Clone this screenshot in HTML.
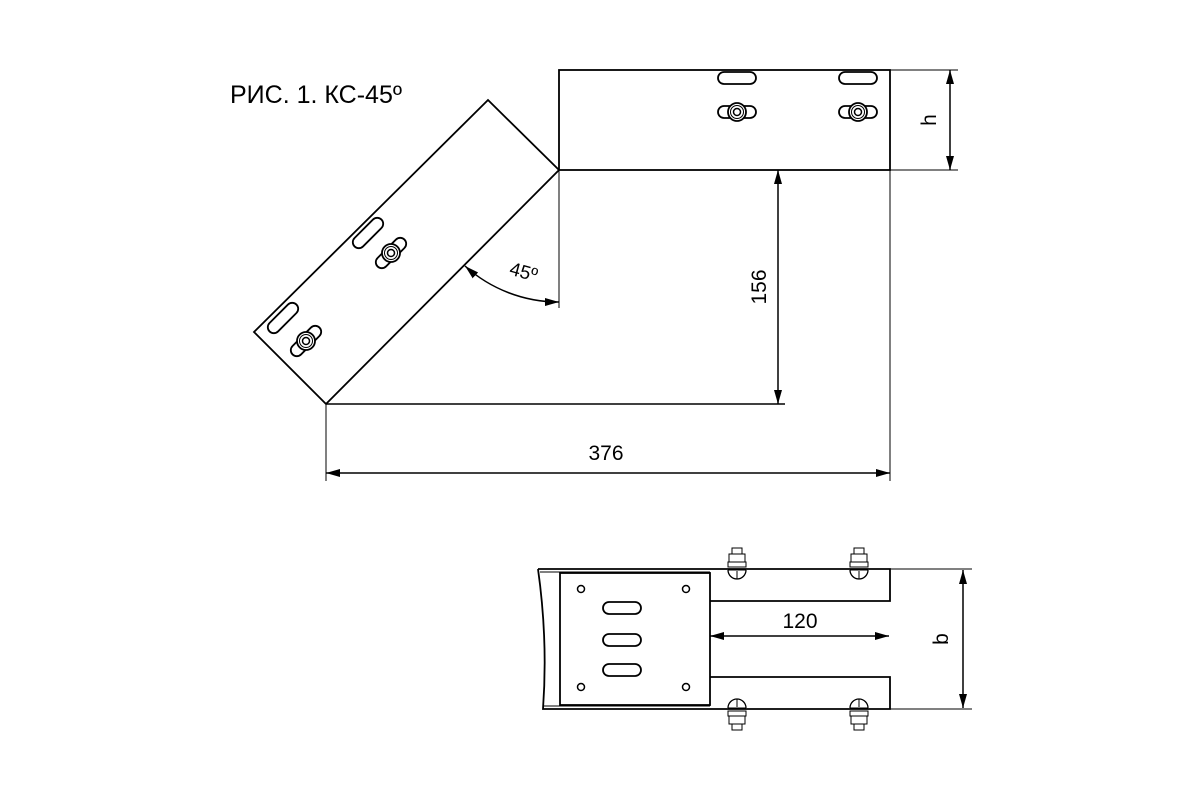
<!DOCTYPE html>
<html><head><style>body{margin:0;background:#fff}svg{display:block}</style></head><body>
<svg width="1200" height="800" viewBox="0 0 1200 800" xmlns="http://www.w3.org/2000/svg" font-family="Liberation Sans, sans-serif">
<defs>
<marker id="a" viewBox="0 0 14 8" refX="14" refY="4" markerWidth="14" markerHeight="8" markerUnits="userSpaceOnUse" orient="auto-start-reverse"><path d="M0,0 L14,4 L0,8 Z" fill="#000"/></marker>
<g id="nut"><rect x="-19" y="-6" width="38" height="12" rx="6" fill="#fff" stroke="#000" stroke-width="1.8"/><circle r="9" fill="#fff" stroke="#000" stroke-width="1.8"/><circle r="6.5" fill="none" stroke="#000" stroke-width="1"/><circle r="3.5" fill="none" stroke="#000" stroke-width="1.5"/></g>
<rect id="slot" x="-19" y="-6" width="38" height="12" rx="6" fill="none" stroke="#000" stroke-width="1.8"/>
<g id="boltT"><rect x="-5" y="-21" width="10" height="6" fill="#fff" stroke="#000"/><rect x="-8" y="-15" width="16" height="8" fill="#fff" stroke="#000"/><rect x="-9" y="-7" width="18" height="5" fill="#fff" stroke="#000"/><path d="M-9,1 A9,9 0 0 0 9,1" fill="#fff" stroke="#000" stroke-width="1.3"/><line x1="-9" y1="1" x2="9" y2="1" stroke="#000"/><line x1="0" y1="2" x2="0" y2="10" stroke="#000"/></g>
</defs>
<g fill="none" stroke="#000">
<text x="230" y="103" font-size="25" fill="#000" stroke="none">РИС. 1. КС-45º</text>
<rect x="559" y="70" width="331" height="100" stroke-width="1.8"/>
<use href="#slot" x="737" y="78"/><use href="#slot" x="858" y="78"/>
<use href="#nut" x="737" y="112"/><use href="#nut" x="858" y="112"/>
<polygon points="488,100 559,170 326,404 254,332" stroke-width="1.8"/>
<g transform="translate(368,233) rotate(-45)"><use href="#slot"/></g>
<g transform="translate(283,318) rotate(-45)"><use href="#slot"/></g>
<g transform="translate(391,253) rotate(-45)"><use href="#nut"/></g>
<g transform="translate(306,341) rotate(-45)"><use href="#nut"/></g>
<g stroke-width="1">
<line x1="559" y1="170" x2="559" y2="308"/>
<line x1="326" y1="404" x2="785" y2="404" stroke-width="1.5"/>
<line x1="326" y1="404" x2="326" y2="481"/>
<line x1="890" y1="170" x2="890" y2="481"/>
<line x1="890" y1="70" x2="958" y2="70"/>
<line x1="890" y1="170" x2="958" y2="170"/>
<line x1="890" y1="569" x2="972" y2="569"/>
<line x1="890" y1="709" x2="972" y2="709"/>
</g>
<g stroke-width="1.5">
<line x1="950" y1="70" x2="950" y2="170" marker-start="url(#a)" marker-end="url(#a)"/>
<line x1="778" y1="170" x2="778" y2="404" marker-start="url(#a)" marker-end="url(#a)"/>
<line x1="326" y1="473" x2="890" y2="473" marker-start="url(#a)" marker-end="url(#a)"/>
<path d="M465,266 A140,140 0 0 0 559,302" marker-start="url(#a)" marker-end="url(#a)"/>
<line x1="710" y1="636" x2="889" y2="636" marker-start="url(#a)" marker-end="url(#a)"/>
<line x1="963" y1="570" x2="963" y2="708" marker-start="url(#a)" marker-end="url(#a)"/>
</g>
<g fill="#000" stroke="none" font-size="21">
<text x="606" y="460" text-anchor="middle">376</text>
<text x="800" y="628" text-anchor="middle">120</text>
<text transform="translate(766,287) rotate(-90)" text-anchor="middle">156</text>
<text transform="translate(936,120) rotate(-90)" text-anchor="middle">h</text>
<text transform="translate(948,639) rotate(-90)" text-anchor="middle">b</text>
<text transform="translate(522,278) rotate(15)" text-anchor="middle" font-size="19">45º</text>
</g>
<path d="M538,569 L890,569 L890,601 L710,601 M710,677 L890,677 L890,709 L543,709 Q548,640 538,569" stroke-width="1.8"/>
<line x1="540" y1="572" x2="710" y2="572" stroke-width="1"/>
<line x1="543" y1="706" x2="710" y2="706" stroke-width="1"/>
<rect x="560" y="573" width="150" height="132" stroke-width="1.8"/>
<g stroke-width="1.5"><circle cx="581" cy="589" r="3.5"/><circle cx="686" cy="589" r="3.5"/><circle cx="581" cy="687" r="3.5"/><circle cx="686" cy="687" r="3.5"/></g>
<use href="#slot" x="622" y="608"/><use href="#slot" x="622" y="640"/><use href="#slot" x="622" y="670"/>
<use href="#boltT" x="737" y="569"/><use href="#boltT" x="859" y="569"/>
<g transform="translate(737,709) scale(1,-1)"><use href="#boltT"/></g>
<g transform="translate(859,709) scale(1,-1)"><use href="#boltT"/></g>
</g>
</svg>
</body></html>
